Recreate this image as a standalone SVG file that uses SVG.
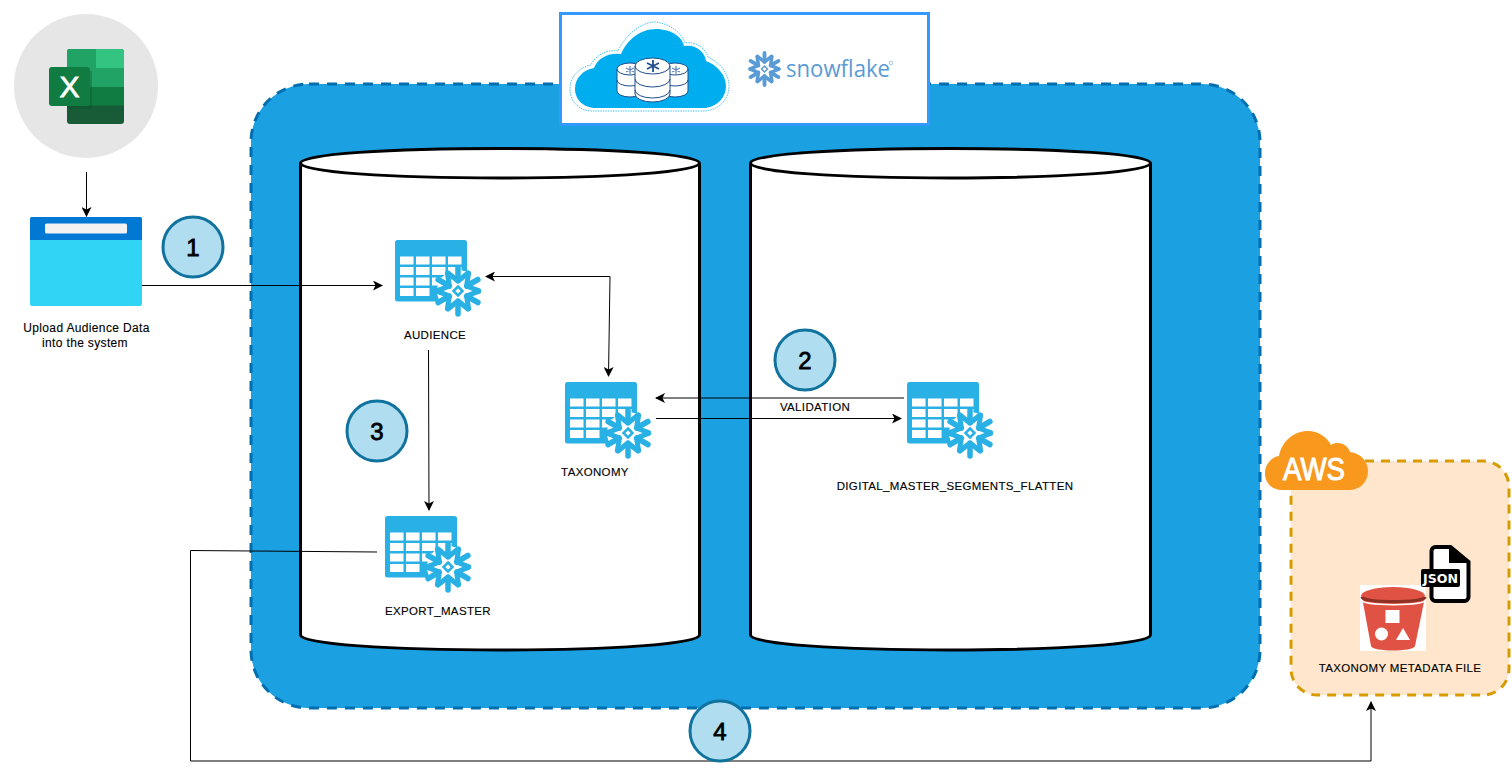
<svg xmlns="http://www.w3.org/2000/svg" xmlns:xlink="http://www.w3.org/1999/xlink" width="1512" height="769" viewBox="0 0 1512 769">
<style>
text{font-family:"Liberation Sans",Arial,sans-serif;fill:#000}
.lbl{font-size:11.5px;letter-spacing:.35px;text-anchor:middle;stroke:#000;stroke-width:.12}
.num{font-size:24px;text-anchor:middle;stroke:#000;stroke-width:.8}
.step{fill:#b1ddf0;stroke:#10739e;stroke-width:3}
.cyl{fill:#fff;stroke:#000;stroke-width:3}
.conn{fill:none;stroke:#000;stroke-width:1}
</style>
<defs>
<marker id="arr" viewBox="0 0 10 10" refX="9" refY="5" markerWidth="10" markerHeight="10" markerUnits="userSpaceOnUse" orient="auto-start-reverse"><path d="M0 0L10 5L0 10L2.5 5Z" fill="#000"/></marker>
<g id="arm"><path d="M0-10V-23" stroke-width="5.500" stroke-linecap="round" fill="none"/><path d="M-10-18L-2-11.500M10-18L2-11.500" stroke-width="5" stroke-linecap="round" fill="none"/></g>
<g id="tbl">
<rect width="72" height="61.500" rx="2.500" fill="#29b0e5"/>
<g fill="#fff">
<rect x="5" y="16.500" width="13.500" height="8"/><rect x="21" y="16.500" width="13.500" height="8"/><rect x="37" y="16.500" width="13.500" height="8"/><rect x="53" y="16.500" width="13.500" height="8"/>
<rect x="5" y="27" width="13.500" height="8"/><rect x="21" y="27" width="13.500" height="8"/><rect x="37" y="27" width="13.500" height="8"/><rect x="53" y="27" width="13.500" height="8"/>
<rect x="5" y="37.500" width="13.500" height="8"/><rect x="21" y="37.500" width="13.500" height="8"/><rect x="37" y="37.500" width="13.500" height="8"/>
<rect x="5" y="48" width="13.500" height="8"/><rect x="21" y="48" width="13.500" height="8"/>
</g>
<g transform="translate(63,51)">
<circle r="21" fill="#fff"/>
<g stroke="#29b0e5">
<use xlink:href="#arm"/><use xlink:href="#arm" transform="rotate(60)"/><use xlink:href="#arm" transform="rotate(120)"/><use xlink:href="#arm" transform="rotate(180)"/><use xlink:href="#arm" transform="rotate(240)"/><use xlink:href="#arm" transform="rotate(300)"/>
<path d="M0-4.500L4.500 0L0 4.500L-4.500 0Z" fill="none" stroke-width="2.500"/>
</g>
</g>
</g>
</defs>

<g id="snowflake-container">
<rect x="251" y="84" width="1009" height="624" rx="58" fill="#1ba1e2" stroke="#006eaf" stroke-width="3" stroke-dasharray="10 8"/>
</g>

<g id="cylinder-left">
<path class="cyl" d="M300.500 163C300.500 154 390 148.500 500 148.500S699.500 154 699.500 163V635C699.500 644 610 650 500 650S300.500 644 300.500 635Z"/>
<path class="cyl" fill="none" d="M300.500 163C300.500 172 390 178 500 178S699.500 172 699.500 163"/>
</g>
<g id="cylinder-right">
<path class="cyl" d="M750.500 163C750.500 154 840 148.500 950 148.500S1150.500 154 1150.500 163V635C1150.500 644 1060 650 950 650S750.500 644 750.500 635Z"/>
<path class="cyl" fill="none" d="M750.500 163C750.500 172 840 178 950 178S1150.500 172 1150.500 163"/>
</g>

<g id="snowflake-logo">
<rect x="560.500" y="13.500" width="368" height="111" fill="#fff" stroke="#3399ff" stroke-width="3"/>
<path d="M596 108C582 108 575 98 575 89C575 78 583 70 594 68C597 59 608 52 621 54C627 40 640 29 656 29C672 29 683 38 684 46C696 44 705 52 706 61C717 65 726 75 726 86C726 98 716 108 703 108Z" fill="#00aeef"/>
<path d="M592 111C578 111 570 100 570 89C570 76 580 67 591 65C595 56 606 49 618 51C625 36 640 22 656 22C674 25 682 35 685 43C696 41 705 48 708 57C719 62 729 73 729 86C729 100 718 111 703 111Z" fill="none" stroke="#4fc3f0" stroke-width="1" stroke-dasharray="1.500 1"/>
<g fill="#fff" stroke="#1f4e8c" stroke-width="1">
<path d="M617 69a13 6 0 0 1 26 0v22a13 6 0 0 1-26 0Z"/>
<path d="M617 69a13 6 0 0 0 26 0M617 80a13 6 0 0 0 26 0" fill="none"/>
<path d="M662 69a13 6 0 0 1 26 0v22a13 6 0 0 1-26 0Z"/>
<path d="M662 69a13 6 0 0 0 26 0M662 80a13 6 0 0 0 26 0" fill="none"/>
<path d="M635 66a17.500 8 0 0 1 35 0v28a17.500 8 0 0 1-35 0Z"/>
<path d="M635 66a17.500 8 0 0 0 35 0M635 79a17.500 8 0 0 0 35 0M635 90a17.500 8 0 0 0 35 0" fill="none"/>
</g>
<g stroke="#1f4e8c" stroke-width="1.800" fill="none"><path d="M653 60v12M647 63l12 6M659 63l-12 6"/></g>
<g stroke="#5d84b8" stroke-width="1.200" fill="none"><path d="M630 66v8M626 68l8 4M634 68l-8 4M676 66v8M672 68l8 4M680 68l-8 4"/></g>
<g transform="translate(764.500,69)" stroke="#5b9bd5">
<use xlink:href="#arm" transform="scale(.7)"/><use xlink:href="#arm" transform="scale(.7) rotate(60)"/><use xlink:href="#arm" transform="scale(.7) rotate(120)"/><use xlink:href="#arm" transform="scale(.7) rotate(180)"/><use xlink:href="#arm" transform="scale(.7) rotate(240)"/><use xlink:href="#arm" transform="scale(.7) rotate(300)"/>
<path d="M0-3L3 0L0 3L-3 0Z" fill="none" stroke-width="1.500"/>
</g>
<text x="786" y="76.500" style="font-size:23px;fill:#5b9bd5;font-family:'Open Sans',sans-serif" textLength="104" lengthAdjust="spacingAndGlyphs">snowflake</text>
<circle cx="891" cy="63" r="1.800" fill="none" stroke="#8fb8de" stroke-width=".8"/>
</g>

<g id="excel">
<circle cx="86" cy="86" r="72" fill="#e6e6e6"/>
<rect x="67" y="49" width="57" height="75" rx="3" fill="#185c37"/>
<path d="M67 52a3 3 0 0 1 3-3h26v19H67Z" fill="#21a366"/>
<path d="M96 49h25a3 3 0 0 1 3 3v16H96Z" fill="#33c481"/>
<rect x="67" y="68" width="57" height="19" fill="#21a366"/>
<rect x="67" y="87" width="57" height="18.500" fill="#107c41"/>
<rect x="67" y="71" width="25" height="38" fill="#0a4a29" opacity=".3"/>
<rect x="49" y="67" width="41" height="39" rx="3" fill="#107c41"/>
<text x="69.500" y="97" style="font-size:30px;fill:#fff;text-anchor:middle;stroke:#fff;stroke-width:.8">X</text>
</g>

<g id="upload">
<rect x="30" y="217" width="112" height="89" rx="2" fill="#32d4f5"/>
<path d="M30 240V219a2 2 0 0 1 2-2h108a2 2 0 0 1 2 2v21Z" fill="#0078d4"/>
<rect x="45" y="223.500" width="82" height="10" rx="1.500" fill="#f2f2f2"/>
<text class="lbl" x="86.500" y="332" style="font-size:12px">Upload Audience Data</text>
<text class="lbl" x="85" y="347" style="font-size:12px">into the system</text>
</g>

<g id="audience"><use xlink:href="#tbl" x="395" y="240"/><text class="lbl" x="435" y="339">AUDIENCE</text></g>
<g id="taxonomy"><use xlink:href="#tbl" x="565" y="382"/><text class="lbl" x="595" y="476">TAXONOMY</text></g>
<g id="export-master"><use xlink:href="#tbl" x="385" y="516"/><text class="lbl" x="438" y="615">EXPORT_MASTER</text></g>
<g id="digital-master"><use xlink:href="#tbl" x="907" y="382"/><text class="lbl" x="955" y="490">DIGITAL_MASTER_SEGMENTS_FLATTEN</text></g>

<g id="aws">
<rect x="1291" y="461" width="218" height="234" rx="26" fill="#ffe6cc" stroke="#d79b00" stroke-width="3" stroke-dasharray="9 7"/>
<path d="M1282 490C1272 490 1265 483 1265 473C1265 464 1272 457 1279 456C1282 441 1294 431 1308 431C1318 431 1327 437 1331 445C1337 441 1347 443 1350 452C1361 453 1368 462 1368 471C1368 482 1360 490 1349 490Z" fill="#f8991d"/>
<text x="1314" y="480" style="font-size:32px;fill:#fff;text-anchor:middle;stroke:#fff;stroke-width:1" textLength="62" lengthAdjust="spacingAndGlyphs">AWS</text>
<rect x="1360" y="585" width="66" height="66" fill="#fff"/>
<path d="M1362 597L1371 646C1372 652 1414 652 1415 646L1425 597Z" fill="#e05243"/>
<ellipse cx="1393" cy="596" rx="32" ry="9" fill="#e05243"/>
<path d="M1362 597C1362 603 1425 603 1425 597" fill="none" stroke="#8c3123" stroke-width="3"/>
<path d="M1362 600.500C1364 606 1423 606 1425 600.500" fill="none" stroke="#fff" stroke-width="1.500"/>
<rect x="1385.500" y="610" width="14" height="13" fill="#fff"/><circle cx="1381.500" cy="634" r="6.500" fill="#fff"/><path d="M1396 640L1403 628L1410 640Z" fill="#fff"/>
<path d="M1431.500 551a4 4 0 0 1 4-4h15l18 15v35a4 4 0 0 1-4 4h-29a4 4 0 0 1-4-4Z" fill="#fff" stroke="#000" stroke-width="4"/>
<path d="M1449 547l19 16h-19Z" fill="#000"/>
<rect x="1421" y="569" width="39" height="18" rx="2" fill="#000"/>
<text x="1440.500" y="583" style="font-size:13px;fill:#fff;font-weight:700;text-anchor:middle;font-family:'DejaVu Sans',sans-serif" textLength="35" lengthAdjust="spacingAndGlyphs">JSON</text>
<text class="lbl" x="1400" y="672">TAXONOMY METADATA FILE</text>
</g>

<g id="connectors">
<path class="conn" marker-end="url(#arr)" d="M86.500 172V216"/>
<path class="conn" marker-end="url(#arr)" d="M142 285.500H382"/>
<path class="conn" marker-start="url(#arr)" marker-end="url(#arr)" d="M486 276.500H610L608.500 376"/>
<path class="conn" marker-end="url(#arr)" d="M428.500 350L429 510"/>
<path class="conn" marker-end="url(#arr)" d="M904 398H656"/>
<path class="conn" marker-end="url(#arr)" d="M656 418.500H901"/>
<path class="conn" marker-end="url(#arr)" d="M377 552L190.500 550.500V761H1371V702"/>
</g>

<g id="validation-label"><text class="lbl" x="815" y="411">VALIDATION</text></g>

<g id="step-1"><circle class="step" cx="193" cy="247" r="30"/><text class="num" x="193" y="255.500">1</text></g>
<g id="step-2"><circle class="step" cx="805" cy="360" r="30"/><text class="num" x="805" y="368.500">2</text></g>
<g id="step-3"><circle class="step" cx="377" cy="431" r="30"/><text class="num" x="377" y="439.500">3</text></g>
<g id="step-4"><circle class="step" cx="720" cy="731" r="30"/><text class="num" x="720" y="739.500">4</text></g>
</svg>
